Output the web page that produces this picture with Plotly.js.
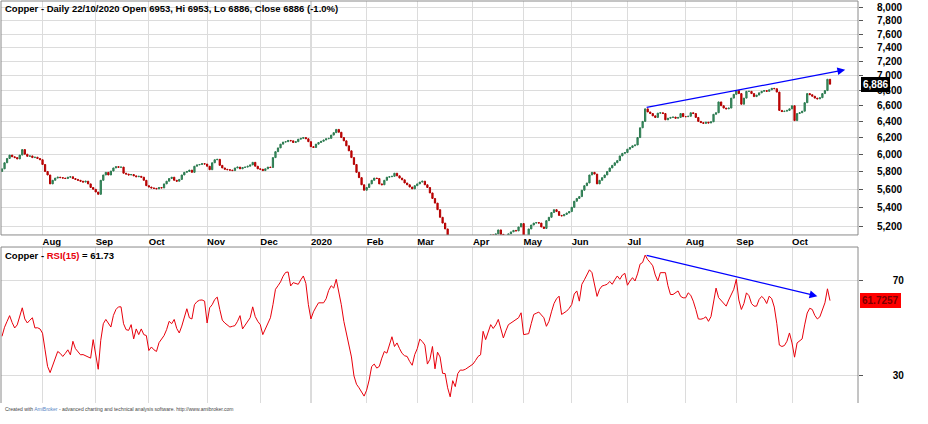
<!DOCTYPE html>
<html><head><meta charset="utf-8">
<script src="https://cdn.plot.ly/plotly-3.0.1.min.js"></script>
<style>html,body{margin:0;padding:0;background:#fff;}#chart{width:928px;height:424px;}</style>
</head><body><div id="chart"></div>
<script>
// ---- daily closes per month (LME copper) ----
const closeJul19 = [5830,5900,5950,5990,5970,5960,5945,5990,6055,6000,5975,5980,5960,5965,5950,5935];
const closeAug19 = [5880,5800,5760,5660,5700,5725,5735,5730,5725,5720,5735,5740,5720,5710,5700,5690,5680,5690,5660,5620,5600];
const closeSep19 = [5570,5545,5700,5760,5790,5760,5805,5840,5855,5848,5850,5780,5770,5760,5765,5750,5740,5745,5735,5700,5640];
const closeOct19 = [5625,5615,5610,5605,5620,5615,5660,5690,5720,5735,5700,5690,5710,5760,5790,5800,5815,5790,5860,5875,5880,5890,5885];
const closeNov19 = [5860,5820,5900,5935,5940,5870,5840,5825,5820,5815,5810,5840,5850,5830,5845,5850,5860,5875,5905,5860,5830];
const closeDec19 = [5825,5810,5830,5850,5845,5960,6030,6075,6120,6145,6150,6165,6160,6140,6150,6180,6190,6200,6185,6150];
const closeJan20 = [6090,6080,6120,6140,6155,6170,6185,6190,6230,6260,6300,6265,6200,6160,6100,6040,5960,5880,5790,5730,5650,5590];
const closeFeb20 = [5620,5660,5700,5725,5720,5660,5650,5700,5735,5740,5745,5780,5750,5725,5705,5670,5650,5625,5605,5640];
const closeMar20 = [5660,5680,5690,5650,5620,5560,5500,5450,5380,5300,5240,5180,5050,4900,4700,4620,4500,4430,4400,4560,4650,4780];
const closeApr20 = [4800,4850,4870,4900,4950,5000,5050,5120,5100,5130,5170,5125,5110,5090,5130,5150,5165,5160,5200,5235];
const closeMay20 = [5070,5090,5180,5220,5240,5245,5240,5200,5185,5265,5300,5350,5380,5360,5320,5315,5330,5345,5360];
const closeJun20 = [5405,5470,5500,5520,5590,5640,5670,5760,5790,5770,5660,5700,5730,5760,5800,5840,5870,5900,5925,5980,6010,6020];
const closeJul20 = [6060,6080,6100,6110,6200,6320,6400,6560,6520,6500,6470,6450,6505,6510,6500,6420,6440,6450,6455,6440,6450,6500,6460];
const closeAug20 = [6460,6465,6510,6500,6450,6400,6385,6375,6390,6380,6395,6490,6510,6650,6600,6570,6560,6570,6700,6750];
const closeSep20 = [6800,6760,6620,6700,6790,6790,6760,6720,6740,6770,6790,6800,6790,6810,6830,6825,6780,6540,6525,6530,6540,6560];
const closeOct20 = [6600,6410,6500,6510,6530,6640,6760,6745,6725,6700,6690,6705,6760,6800,6953,6886];
const firstOpen = 5800;

// ---- RSI(15) per month ----
const rsiJul19 = [46.7,50.5,53,55.4,52.5,50.2,51.5,55,58.7,54,52.3,53.5,54.5,50.2,50.3,49.8];
const rsiAug19 = [48,41,34,31.4,34.7,37.5,40.3,39.5,38.2,39.5,41,38.9,44.6,41.5,40,38.9,39,38.5,38,37.5,45.3];
const rsiSep19 = [39.6,32.8,45,52,53.8,52,50.6,55.5,58,59.1,59.1,52,49.5,49.2,51.6,45.6,49.8,47.4,49.8,47.4,47];
const rsiOct19 = [40.7,42.2,41,40.3,44,45.5,47,49.5,53,52,53.8,50,48.1,51,55,58.3,54.5,54,60,61.3,61.9,62,61.5];
const rsiNov19 = [52.3,58.7,60,62.2,63.2,58,53.5,52.3,51.5,50.6,50.9,51.2,53,55.4,49.8,51.5,53,54.5,59.1,55,53];
const rsiDec19 = [51.6,47.4,50,52.3,54.5,60,66.5,68,69.6,72,73.6,73.8,67.9,69.3,69,68.6,70.5,72.1,69,60];
const rsiJan20 = [54,57,59,60.8,60.8,60.8,62.5,66,68,67,70.7,66,60,53,48,44,38,30,26.5,25,23,21.5];
const rsiFeb20 = [24,28.3,34,35,33.3,34,37.5,40.3,39.6,43,46.5,42.4,43.9,41.5,39.5,38.5,38.2,36.1,34.5,39];
const rsiMar20 = [41.5,45.5,44.5,43,35,37,42.4,33,40,38,31.1,31,25,21.2,28,25.5,31,32.5,32.4,32.8,33.5,34];
const rsiApr20 = [35,36.5,38.2,38.9,48.8,45.3,48.5,51.6,50,51.5,53.8,50,46,49,51.6,52.3,53,53.8,54.5,56.6];
const rsiMay20 = [47.4,47.6,47.8,52,55.9,56.4,56.9,55.7,54.5,50.9,53,57,60.5,62.5,63.6,55.9,56.6,57.3,58.5];
const rsiJun20 = [60.1,64.5,65.8,61.5,68.6,70.5,72.8,74.7,73.5,68,63.5,66.5,67.9,68.2,68.6,69.8,68.6,70.5,72.1,70.7,72.5,73.2];
const rsiJul20 = [68.2,70,71.4,70,73,77.1,77.8,80.9,79,77.8,76.4,72.5,70,73.5,73.5,73.5,68,64.3,64.3,65,65.8,63.5,62.9];
const rsiAug20 = [62.9,65,64,61.5,58,54,53.9,54.2,54.9,53,55,62,67,63,61.8,60.5,59.4,62,64.5,66.5];
const rsiSep20 = [70.7,62,58,60.5,65,63.8,60.5,59.4,59.4,62.2,63.5,62.5,60.5,63.6,62.5,59,52,43,42.4,42.8,44.6,48.1];
const rsiOct20 = [43.9,37.9,43.9,44.8,45.6,51.5,56.5,58.5,58,55.5,54,54.9,58,60.8,66.7,61.7257];

// ---- axis labels ----
const monthTickLabels = ['Aug','Sep','Oct','Nov','Dec','2020','Feb','Mar','Apr','May','Jun','Jul','Aug','Sep','Oct'];
const priceTicks = [5200,5400,5600,5800,6000,6200,6400,6600,6800,7000,7200,7400,7600,7800,8000];
const rsiTicks = [30,70];

// ---- drawn trend lines (bar index, value) ----
const priceTrendIdx = [254, 333];
const priceTrendVal = [6575, 7084];
const rsiTrendIdx = [254, 322];
const rsiTrendVal = [80.9, 63.6];

// ---- build ----
const closeMonths = [closeJul19,closeAug19,closeSep19,closeOct19,closeNov19,closeDec19,closeJan20,closeFeb20,closeMar20,closeApr20,closeMay20,closeJun20,closeJul20,closeAug20,closeSep20,closeOct20];
const rsiMonths = [rsiJul19,rsiAug19,rsiSep19,rsiOct19,rsiNov19,rsiDec19,rsiJan20,rsiFeb20,rsiMar20,rsiApr20,rsiMay20,rsiJun20,rsiJul20,rsiAug20,rsiSep20,rsiOct20];
const closes = [].concat(...closeMonths);
const rsi = [].concat(...rsiMonths);
const N = closes.length;
const idx = closes.map((_, i) => i);
const opens = [firstOpen].concat(closes.slice(0, -1));
const highs = closes.map((c, i) => Math.max(c, opens[i]));
const lows = closes.map((c, i) => Math.min(c, opens[i]));

const monthStarts = [];
let acc = 0;
closeMonths.forEach((m, k) => { if (k > 0) monthStarts.push(acc); acc += m.length; });
const yearIdx = monthStarts[monthTickLabels.indexOf('2020')];

const lastC = closes[N-1], lastO = opens[N-1], lastH = highs[N-1], lastL = lows[N-1];
const pct = ((lastC - closes[N-2]) / closes[N-2] * 100).toFixed(1);
const lastRsi = rsi[N-1];
const fmt = v => v.toLocaleString('en-US');
const PAD = '\u00a0'.repeat(10);

const FONT = 'Liberation Sans, Arial, sans-serif';

const traces = [
  {type:'candlestick', x: idx, open: opens, high: highs, low: lows, close: closes,
   xaxis:'x', yaxis:'y', hoverinfo:'skip', whiskerwidth:0,
   increasing:{line:{color:'#2c7a50', width:1}, fillcolor:'#3f9a69'},
   decreasing:{line:{color:'#b30000', width:1}, fillcolor:'#d40000'}},
  {type:'scatter', mode:'lines', x: idx, y: rsi, xaxis:'x', yaxis:'y2',
   line:{color:'#e8000b', width:1}, hoverinfo:'skip'}
];

const gridC = '#dcdcdc';
const frameC = '#8a8a8a';

const layout = {
  width: 928, height: 424,
  margin: {l:1, r:70, t:1, b:21, pad:0},
  paper_bgcolor:'#ffffff', plot_bgcolor:'#ffffff',
  showlegend:false,
  font:{family:FONT, color:'#000'},
  xaxis:{
    range:[-0.4, N - 1 + 11.06], anchor:'y',
    tickmode:'array', tickvals: monthStarts, ticktext: monthTickLabels,
    ticklabelposition:'outside right', ticks:'', showline:false, zeroline:false,
    showgrid:true, gridcolor:gridC, gridwidth:1,
    tickfont:{family:FONT, size:9.5, weight:'bold', color:'#000'},
    rangeslider:{visible:false}, fixedrange:true
  },
  yaxis:{
    type:'log', domain:[0.418, 1], side:'right', anchor:'x',
    range:[Math.log10(5119), Math.log10(8110)],
    tickmode:'array', tickvals: priceTicks, ticktext: priceTicks.map(fmt),
    ticks:'outside', ticklen:4, tickcolor:'#555', ticklabelstandoff:12,
    showgrid:true, gridcolor:gridC, zeroline:false, showline:false,
    tickfont:{family:FONT, size:10, weight:'bold', color:'#000'}, fixedrange:true
  },
  yaxis2:{
    domain:[0, 0.388], side:'right', anchor:'x',
    range:[18.6, 84.3],
    tickmode:'array', tickvals: rsiTicks, ticktext: rsiTicks.map(v => PAD + v),
    ticks:'outside', ticklen:4, tickcolor:'#555',
    showgrid:true, gridcolor:gridC, zeroline:false, showline:false,
    tickfont:{family:FONT, size:10, weight:'bold', color:'#000'}, fixedrange:true
  },
  shapes:[
    {type:'line', xref:'x', yref:'y domain', x0:yearIdx, x1:yearIdx, y0:0, y1:1, line:{color:'#a8a8a8', width:1}, layer:'below'},
    {type:'line', xref:'x', yref:'y2 domain', x0:yearIdx, x1:yearIdx, y0:0, y1:1, line:{color:'#a8a8a8', width:1}, layer:'below'},
    {type:'rect', xref:'x domain', yref:'y domain', x0:0, x1:1, y0:0, y1:1, line:{color:frameC, width:1}},
    {type:'line', xref:'x domain', yref:'y2 domain', x0:0, x1:1, y0:1, y1:1, line:{color:frameC, width:1}},
    {type:'line', xref:'x domain', yref:'y2 domain', x0:0, x1:0, y0:0, y1:1, line:{color:frameC, width:1}},
    {type:'line', xref:'x domain', yref:'y2 domain', x0:1, x1:1, y0:0, y1:1, line:{color:frameC, width:1}}
  ],
  annotations:[
    {xref:'paper', yref:'paper', x:0, y:1, xanchor:'left', yanchor:'top', xshift:2, yshift:0, showarrow:false,
     text:'<b>Copper - Daily 22/10/2020 Open ' + lastO + ', Hi ' + lastH + ', Lo ' + lastL + ', Close ' + lastC + ' (' + pct + '%)</b>',
     font:{family:FONT, size:9.5, color:'#000'}},
    {xref:'paper', yref:'y2 domain', x:0, y:1, xanchor:'left', yanchor:'top', xshift:2, yshift:-1, showarrow:false,
     text:'<b>Copper - <span style="color:#e8000b">RSI(15)</span> = ' + lastRsi.toFixed(2) + '</b>',
     font:{family:FONT, size:9.5, color:'#000'}},
    {xref:'paper', yref:'paper', x:0, y:0, xanchor:'left', yanchor:'top', xshift:2, yshift:-1, showarrow:false,
     text:'Created with <span style="color:#5b86c4">AmiBroker</span> - advanced charting and technical analysis software. http://www.amibroker.com',
     font:{family:FONT, size:5, color:'#444'}},
    {xref:'x', yref:'y', axref:'x', ayref:'y',
     x:priceTrendIdx[1], y:Math.log10(priceTrendVal[1]), ax:priceTrendIdx[0], ay:Math.log10(priceTrendVal[0]),
     showarrow:true, arrowhead:2, arrowsize:1.3, arrowwidth:1.2, arrowcolor:'#0000ff', text:''},
    {xref:'x', yref:'y2', axref:'x', ayref:'y2',
     x:rsiTrendIdx[1], y:rsiTrendVal[1], ax:rsiTrendIdx[0], ay:rsiTrendVal[0],
     showarrow:true, arrowhead:2, arrowsize:1.3, arrowwidth:1.2, arrowcolor:'#0000ff', text:''},
    {xref:'paper', yref:'y', x:1, y:Math.log10(lastC), xanchor:'left', yanchor:'middle', xshift:3, showarrow:false,
     text:'<b>' + fmt(lastC) + '</b>', bgcolor:'#000', bordercolor:'#000', borderpad:1,
     font:{family:FONT, size:10, color:'#fff'}},
    {xref:'paper', yref:'y2', x:1, y:lastRsi, xanchor:'left', yanchor:'middle', xshift:2, showarrow:false,
     text:'<b>' + lastRsi.toFixed(4) + '</b>', bgcolor:'#ff0000', bordercolor:'#ff0000', borderpad:1,
     font:{family:FONT, size:10, color:'#7a0000'}}
  ]
};

Plotly.newPlot('chart', traces, layout, {staticPlot:true, displayModeBar:false});
</script>
</body></html>
